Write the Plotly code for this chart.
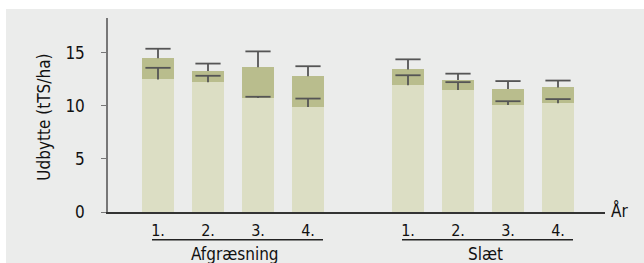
import plotly.graph_objects as go

# ---- data ----
groups = ["Afgræsning", "Slæt"]
years = ["1.", "2.", "3.", "4."]
base_vals = [12.5, 12.25, 10.75, 9.9, 11.95, 11.5, 10.1, 10.25]      # light segment (top)
total_vals = [14.5, 13.3, 13.65, 12.8, 13.45, 12.45, 11.6, 11.75]    # dark segment top
base_err = [1.1, 0.6, 0.12, 0.8, 0.95, 0.75, 0.35, 0.4]
total_err = [0.9, 0.7, 1.5, 0.95, 0.95, 0.6, 0.75, 0.65]
y_ticks = [0, 5, 10, 15]

# positions: two groups of 4 with a gap
xpos = [0, 1, 2, 3, 5, 6, 7, 8]
xlabels = years + years
dark_vals = [t - b for t, b in zip(total_vals, base_vals)]
base_cap = [b + e for b, e in zip(base_vals, base_err)]
total_cap = [t + e for t, e in zip(total_vals, total_err)]

LIGHT = "#dcdec4"
DARK = "#b9bd8d"
BG = "#ebeceb"
ERR = "#555555"
FONT = "DejaVu Sans Condensed, Liberation Sans Narrow, sans-serif"

fig = go.Figure()
fig.add_trace(go.Bar(x=xpos, y=base_vals, marker=dict(color=LIGHT, line=dict(width=0)),
                     width=0.64, showlegend=False))
fig.add_trace(go.Bar(x=xpos, y=dark_vals, marker=dict(color=DARK, line=dict(width=0)),
                     width=0.64, showlegend=False))
for caps, errs in ((base_cap, base_err), (total_cap, total_err)):
    fig.add_trace(go.Scatter(
        x=xpos, y=caps, mode="markers",
        marker=dict(symbol="line-ew-open", size=18, color=ERR, line=dict(color=ERR, width=1.8)),
        error_y=dict(type="data", array=[0] * len(errs), arrayminus=errs, symmetric=False,
                     color=ERR, thickness=1.8, width=0),
        showlegend=False, hoverinfo="skip"))

L, R, T, B = 108, 39, 18, 51.3
W, H = 644, 263
pw = W - L - R
ph = H - T - B

def px_to_paper_x(px):
    return (px - L) / pw

def px_to_paper_y(py):
    return (H - B - py) / ph

shapes = [
    dict(type="rect", xref="paper", yref="paper", layer="below",
         x0=px_to_paper_x(6), x1=px_to_paper_x(W + 2), y0=px_to_paper_y(H + 2), y1=px_to_paper_y(9),
         fillcolor=BG, line=dict(width=0)),
]
annotations = []
for gi, g in enumerate(groups):
    first = xpos[gi * 4]
    last = xpos[gi * 4 + 3]
    shapes.append(dict(type="line", xref="x", yref="paper",
                       x0=first - 0.12, x1=last + 0.3,
                       y0=px_to_paper_y(239.5), y1=px_to_paper_y(239.5),
                       line=dict(color="#222222", width=1.5)))
    annotations.append(dict(text=g, x=(first + last) / 2 + 0.04, xref="x",
                            y=px_to_paper_y(253.5), yref="paper",
                            xanchor="center", yanchor="middle", showarrow=False,
                            font=dict(family=FONT, size=17, color="#111111")))

annotations.append(dict(text="Udbytte (tTS/ha)", textangle=-90, x=px_to_paper_x(44.5), xref="paper",
                        y=px_to_paper_y(117), yref="paper", xanchor="center", yanchor="middle",
                        showarrow=False, font=dict(family=FONT, size=17, color="#111111")))
annotations.append(dict(text="År", x=px_to_paper_x(609), xref="paper", y=px_to_paper_y(210),
                        yref="paper", xanchor="left", yanchor="middle", showarrow=False,
                        font=dict(family=FONT, size=17, color="#111111")))

fig.update_layout(
    width=W, height=H,
    margin=dict(l=L, r=R, t=T, b=B, pad=0),
    paper_bgcolor="white",
    plot_bgcolor="rgba(0,0,0,0)",
    barmode="stack",
    bargap=0,
    shapes=shapes,
    annotations=annotations,
    font=dict(family=FONT, size=16, color="#111111"),
    xaxis=dict(range=[-1, 8.94], tickvals=xpos, ticktext=xlabels, showgrid=False, zeroline=False,
               showline=True, linecolor="#333333", linewidth=1.5, ticks="", ticklabelstandoff=3,
               tickfont=dict(family=FONT, size=16, color="#111111"), fixedrange=True),
    yaxis=dict(range=[0, 18.3], tickvals=y_ticks, showgrid=False, zeroline=False,
               showline=True, linecolor="#777777", linewidth=1.5, ticks="outside", ticklen=5,
               tickcolor="#777777", tickwidth=1.2, ticklabelstandoff=13,
               tickfont=dict(family=FONT, size=17, color="#111111"), fixedrange=True),
)

fig.write_html("out.html", config={"displayModeBar": False},
               post_script="document.body.style.margin='0';document.body.style.overflow='hidden';")
